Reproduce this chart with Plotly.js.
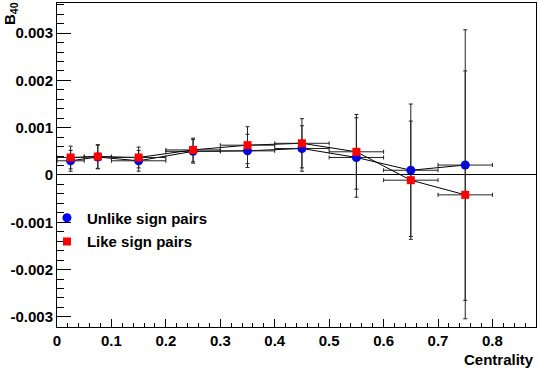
<!DOCTYPE html>
<html>
<head>
<meta charset="utf-8">
<script src="https://cdn.plot.ly/plotly-3.0.1.min.js"></script>
<style>
  html, body { margin: 0; padding: 0; background: #fff; }
  #chart { width: 540px; height: 369px; }
</style>
</head>
<body>
<div id="chart"></div>
<script>
// Data
const centrality    = [0.025, 0.075, 0.15, 0.25, 0.35, 0.45, 0.55, 0.65, 0.75];
const binHalfWidth  = [0.025, 0.025, 0.05, 0.05, 0.05, 0.05, 0.05, 0.05, 0.05];
const unlikeB40     = [0.00030, 0.00038, 0.00030, 0.00050, 0.00051, 0.00056, 0.00037, 0.00010, 0.00021];
const unlikeErr     = [0.00022, 0.00025, 0.00022, 0.00025, 0.00035, 0.00048, 0.00084, 0.00140, 0.00286];
const likeB40       = [0.00037, 0.00039, 0.00037, 0.00053, 0.00063, 0.00067, 0.00049, -0.00011, -0.00042];
const likeErr       = [0.00024, 0.00025, 0.00022, 0.00025, 0.00039, 0.00052, 0.00079, 0.00125, 0.00262];
const seriesNames   = ['Unlike sign pairs', 'Like sign pairs'];
const xTickVals     = [0, 0.1, 0.2, 0.3, 0.4, 0.5, 0.6, 0.7, 0.8];
const xTickText     = ['0', '0.1', '0.2', '0.3', '0.4', '0.5', '0.6', '0.7', '0.8'];
const yTickVals     = [-0.003, -0.002, -0.001, 0, 0.001, 0.002, 0.003];
const yTickText     = ['-0.003', '-0.002', '-0.001', '0', '0.001', '0.002', '0.003'];

const FONT = 'Liberation Sans, Arial, Helvetica, sans-serif';
const errColor = '#222';

function lineTrace(y) {
  return {
    x: centrality, y: y, type: 'scatter', mode: 'lines',
    line: { color: 'black', width: 1 }, showlegend: false, hoverinfo: 'skip'
  };
}
function markerTrace(y, err, name, color, symbol, size, legendId) {
  return {
    x: centrality, y: y, type: 'scatter', mode: 'markers', name: name,
    legend: legendId,
    marker: { color: color, symbol: symbol, size: size, line: { width: 0 } },
    error_y: { type: 'data', array: err, color: errColor, thickness: 1, width: 2 },
    error_x: { type: 'data', array: binHalfWidth, color: errColor, thickness: 1, width: 2 }
  };
}

const data = [
  lineTrace(unlikeB40),
  markerTrace(unlikeB40, unlikeErr, seriesNames[0], '#0000ff', 'circle', 9, 'legend'),
  lineTrace(likeB40),
  markerTrace(likeB40, likeErr, seriesNames[1], '#ff0000', 'square', 8, 'legend2')
];

const tickFont = { family: FONT, size: 15, color: 'black', weight: 'bold' };
const legendCommon = {
  xanchor: 'left', yanchor: 'middle', bgcolor: 'rgba(0,0,0,0)', borderwidth: 0,
  font: { family: FONT, size: 15, color: 'black', weight: 'bold' }, itemsizing: 'trace'
};

const layout = {
  width: 540, height: 369,
  margin: { l: 57, r: 4, t: 3, b: 42, pad: 0 },
  paper_bgcolor: 'white', plot_bgcolor: 'white',
  showlegend: true,
  xaxis: {
    range: [0, 0.88], tickmode: 'array', tickvals: xTickVals, ticktext: xTickText,
    ticks: 'inside', ticklen: 8, tickwidth: 1, tickcolor: 'black',
    minor: { tickmode: 'linear', tick0: 0, dtick: 0.02, ticks: 'inside', ticklen: 4, tickwidth: 1, tickcolor: 'black' },
    showline: true, mirror: true, linecolor: 'black', linewidth: 1,
    showgrid: false, zeroline: false, tickfont: tickFont
  },
  yaxis: {
    range: [-0.003214, 0.003636], tickmode: 'array', tickvals: yTickVals, ticktext: yTickText,
    ticks: 'inside', ticklen: 14, tickwidth: 1, tickcolor: 'black',
    minor: { tickmode: 'linear', tick0: 0, dtick: 0.0002, ticks: 'inside', ticklen: 7, tickwidth: 1, tickcolor: 'black' },
    showline: true, mirror: true, linecolor: 'black', linewidth: 1,
    showgrid: false, zeroline: true, zerolinecolor: 'black', zerolinewidth: 1,
    tickfont: tickFont
  },
  legend: Object.assign({ x: -0.021, y: 0.3364 }, legendCommon),
  legend2: Object.assign({ x: -0.021, y: 0.2633 }, legendCommon),
  annotations: [
    {
      text: 'Centrality', xref: 'paper', yref: 'paper', x: 1, y: -0.0988,
      xanchor: 'right', yanchor: 'middle', showarrow: false,
      font: { family: FONT, size: 15, color: 'black', weight: 'bold' }
    },
    {
      text: 'B<sub>40</sub>', xref: 'paper', yref: 'paper', x: -0.0981, y: 0.966,
      xanchor: 'center', yanchor: 'middle', showarrow: false, textangle: -90,
      font: { family: FONT, size: 15, color: 'black', weight: 'bold' }
    }
  ]
};

Plotly.newPlot('chart', data, layout, { displayModeBar: false, staticPlot: true });
</script>
</body>
</html>
